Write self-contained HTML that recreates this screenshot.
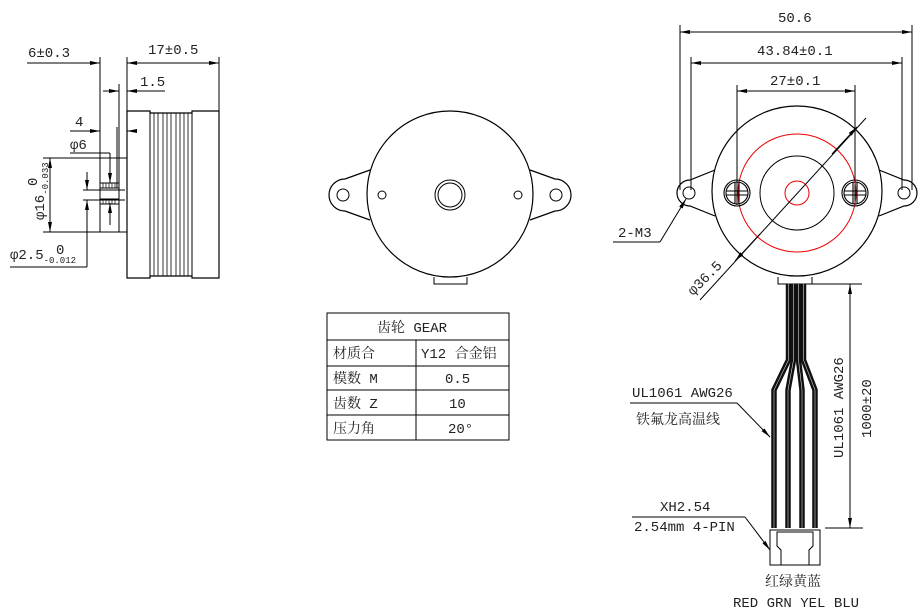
<!DOCTYPE html>
<html><head><meta charset="utf-8"><style>
html,body{margin:0;padding:0;background:#fff}
svg{display:block}
text{font-family:"Liberation Mono","Noto Serif CJK SC",monospace;font-size:14px;fill:#222}
</style></head><body>
<svg width="923" height="616" viewBox="0 0 923 616" xmlns="http://www.w3.org/2000/svg">
<defs>
<marker id="a" viewBox="0 0 10 4" refX="10" refY="2" markerWidth="10" markerHeight="4" orient="auto-start-reverse" markerUnits="userSpaceOnUse"><path d="M0,0 L10,2 L0,4z" fill="#000"/></marker>
</defs>
<g stroke="#000" fill="none" stroke-width="1">
<!-- LEFT VIEW -->
<path d="M127,111 H150 V113 H192 V111 H219 V278 H192 V276 H150 V278 H127 Z" stroke-width="1.2"/>
<line x1="150" y1="113" x2="150" y2="276"/><line x1="192" y1="113" x2="192" y2="276"/>
<g stroke-width="0.8">
<line x1="154" y1="113" x2="154" y2="276"/><line x1="158" y1="113" x2="158" y2="276"/><line x1="163" y1="113" x2="163" y2="276"/><line x1="167" y1="113" x2="167" y2="276"/><line x1="171" y1="113" x2="171" y2="276"/><line x1="176" y1="113" x2="176" y2="276"/><line x1="180" y1="113" x2="180" y2="276"/><line x1="184" y1="113" x2="184" y2="276"/><line x1="188" y1="113" x2="188" y2="276"/>
</g>
<line x1="27" y1="63" x2="100" y2="63" marker-end="url(#a)"/>
<line x1="127" y1="63" x2="219" y2="63" marker-start="url(#a)" marker-end="url(#a)"/>
<line x1="100" y1="57" x2="100" y2="232"/>
<line x1="127" y1="57" x2="127" y2="111"/>
<line x1="219" y1="57" x2="219" y2="111"/>
<line x1="103" y1="91" x2="119" y2="91" marker-end="url(#a)"/>
<line x1="165" y1="91" x2="127" y2="91" marker-end="url(#a)"/>
<line x1="119" y1="84" x2="119" y2="232"/>
<line x1="70" y1="131" x2="100" y2="131" marker-end="url(#a)"/>
<line x1="137" y1="131" x2="127" y2="131" marker-end="url(#a)"/>
<line x1="117" y1="127" x2="117" y2="188"/>
<line x1="70" y1="153" x2="110" y2="153"/>
<line x1="110" y1="153" x2="110" y2="183" marker-end="url(#a)"/>
<line x1="110" y1="225" x2="110" y2="203" marker-end="url(#a)"/>
<line x1="43" y1="158" x2="127" y2="158"/>
<line x1="43" y1="232" x2="127" y2="232"/>
<line x1="50" y1="158" x2="50" y2="232" marker-start="url(#a)" marker-end="url(#a)"/>
<rect x="100" y="183" width="19" height="5"/><rect x="100" y="199" width="19" height="5"/>
<path d="M103,183v5M106,183v5M109,183v5M112,183v5M115,183v5M103,199v5M106,199v5M109,199v5M112,199v5M115,199v5" stroke-width="0.7"/>
<line x1="83" y1="190" x2="125" y2="190"/><line x1="83" y1="200" x2="125" y2="200"/>
<line x1="87" y1="172" x2="87" y2="190" marker-end="url(#a)"/>
<line x1="87" y1="267" x2="87" y2="200" marker-end="url(#a)"/>
<line x1="10" y1="267" x2="87" y2="267"/>

<!-- MIDDLE VIEW -->
<path d="M370,170 L345,179 A15,15 0 0 0 345,211 L370,220" stroke-width="1.2"/>
<path d="M530,170 L555,179 A15,15 0 0 1 555,211 L530,220" stroke-width="1.2"/>
<circle cx="450" cy="194" r="83" fill="#fff" stroke-width="1.2"/>
<circle cx="343" cy="195" r="6"/><circle cx="556" cy="195" r="6"/>
<circle cx="382" cy="195" r="4"/><circle cx="518" cy="195" r="4"/>
<circle cx="450" cy="195" r="15"/><circle cx="450" cy="195" r="12"/>
<path d="M434,277 V284 H467 V277"/>
<!-- table -->
<rect x="327" y="313" width="182" height="127"/>
<line x1="327" y1="340" x2="509" y2="340"/><line x1="327" y1="366" x2="509" y2="366"/>
<line x1="327" y1="390" x2="509" y2="390"/><line x1="327" y1="415" x2="509" y2="415"/>
<line x1="416" y1="340" x2="416" y2="440"/>

<!-- RIGHT VIEW -->
<line x1="680" y1="32" x2="912" y2="32" marker-start="url(#a)" marker-end="url(#a)"/>
<line x1="691" y1="63" x2="902" y2="63" marker-start="url(#a)" marker-end="url(#a)"/>
<line x1="737" y1="91" x2="855" y2="91" marker-start="url(#a)" marker-end="url(#a)"/>
<line x1="680" y1="25" x2="680" y2="190"/><line x1="912" y1="25" x2="912" y2="190"/>
<line x1="691" y1="57" x2="691" y2="190"/><line x1="902" y1="57" x2="902" y2="190"/>
<path d="M715,170 L690,180 A13,13 0 0 0 690,206 L715,216" stroke-width="1.2"/>
<path d="M879,170 L904,180 A13,13 0 0 1 904,206 L879,216" stroke-width="1.2"/>
<circle cx="797" cy="191" r="85" fill="#fff" stroke-width="1.2"/>
<line x1="737" y1="85" x2="737" y2="205"/><line x1="855" y1="85" x2="855" y2="205"/>
<circle cx="689" cy="193" r="6"/><circle cx="904" cy="193" r="6"/>
<circle cx="797" cy="193" r="59" stroke="#e00"/>
<circle cx="797" cy="193" r="37"/>
<circle cx="797" cy="193" r="12" stroke="#e00"/>
<g stroke-width="1.1">
<circle cx="737" cy="193" r="13"/><circle cx="737" cy="193" r="11"/>
<path d="M735,182v22M739,182v22M726,191h22M726,195h22"/>
<circle cx="855" cy="193" r="13"/><circle cx="855" cy="193" r="11"/>
<path d="M853,182v22M857,182v22M844,191h22M844,195h22"/>
</g>
<line x1="700" y1="300" x2="866" y2="118"/>
<line x1="760" y1="234" x2="735" y2="261" marker-end="url(#a)"/>
<line x1="832" y1="154" x2="857" y2="127" marker-end="url(#a)"/>
<line x1="660" y1="242" x2="686" y2="199" marker-end="url(#a)"/>
<line x1="613" y1="242" x2="660" y2="242"/>
<path d="M778,277 V284 H812 V277"/>
<!-- wires -->
<g stroke="#111" stroke-width="5.5">
<path d="M788.5,284 V360 L774,390 V528"/>
<path d="M793.5,284 V360 L788,390 V528"/>
<path d="M798.5,284 V360 L802,390 V528"/>
<path d="M803.5,284 V360 L815,390 V528"/>
</g>
<g stroke="#fff" stroke-width="0.5">
<path d="M788.5,284 V360 L774,390 V528"/><path d="M793.5,284 V360 L788,390 V528"/><path d="M798.5,284 V360 L802,390 V528"/><path d="M803.5,284 V360 L815,390 V528"/>
</g>
<path d="M770,530 H820 V565 H770 Z" fill="#fff"/>
<path d="M781,565 V550 L777,546 V532 H813 V546 L809,550 V565"/>
<line x1="812" y1="284" x2="862" y2="284"/>
<line x1="825" y1="528" x2="863" y2="528"/>
<line x1="850" y1="284" x2="850" y2="528" marker-start="url(#a)" marker-end="url(#a)"/>
<line x1="630" y1="403" x2="737" y2="403"/>
<line x1="737" y1="403" x2="770" y2="437" marker-end="url(#a)"/>
<line x1="632" y1="517" x2="745" y2="517"/>
<line x1="745" y1="517" x2="770" y2="550" marker-end="url(#a)"/>
</g>
<!-- texts -->
<text x="28" y="57">6±0.3</text>
<text x="148" y="54">17±0.5</text>
<text x="140" y="86">1.5</text>
<text x="75" y="126">4</text>
<text x="70" y="149">φ6</text>
<text transform="translate(44,220) rotate(-90)">φ16<tspan font-size="9" dy="4">-0.033</tspan></text>
<text transform="translate(37,186) rotate(-90)" font-size="9">0</text>
<text x="10" y="259">φ2.5<tspan font-size="9" dy="4">-0.012</tspan></text>
<text x="56" y="254" font-size="9">0</text>

<text x="377" y="332">齿轮 GEAR</text>
<text x="333" y="358">材质合</text>
<text x="421" y="358">Y12 合金铝</text>
<text x="333" y="383">模数 M</text>
<text x="445" y="383">0.5</text>
<text x="333" y="408">齿数 Z</text>
<text x="449" y="408">10</text>
<text x="333" y="433">压力角</text>
<text x="448" y="433">20°</text>

<text x="778" y="22">50.6</text>
<text x="757" y="55">43.84±0.1</text>
<text x="770" y="85">27±0.1</text>
<text x="618" y="237">2-M3</text>
<text transform="translate(693,296) rotate(-45)">φ36.5</text>
<text x="632" y="397">UL1061 AWG26</text>
<text x="636" y="424">铁氟龙高温线</text>
<text x="660" y="511">XH2.54</text>
<text x="634" y="531">2.54mm 4-PIN</text>
<text x="765" y="586">红绿黄蓝</text>
<text x="733" y="607">RED GRN YEL BLU</text>
<text transform="translate(843,458) rotate(-90)">UL1061 AWG26</text>
<text transform="translate(871,438) rotate(-90)">1000±20</text>
</svg>
</body></html>
